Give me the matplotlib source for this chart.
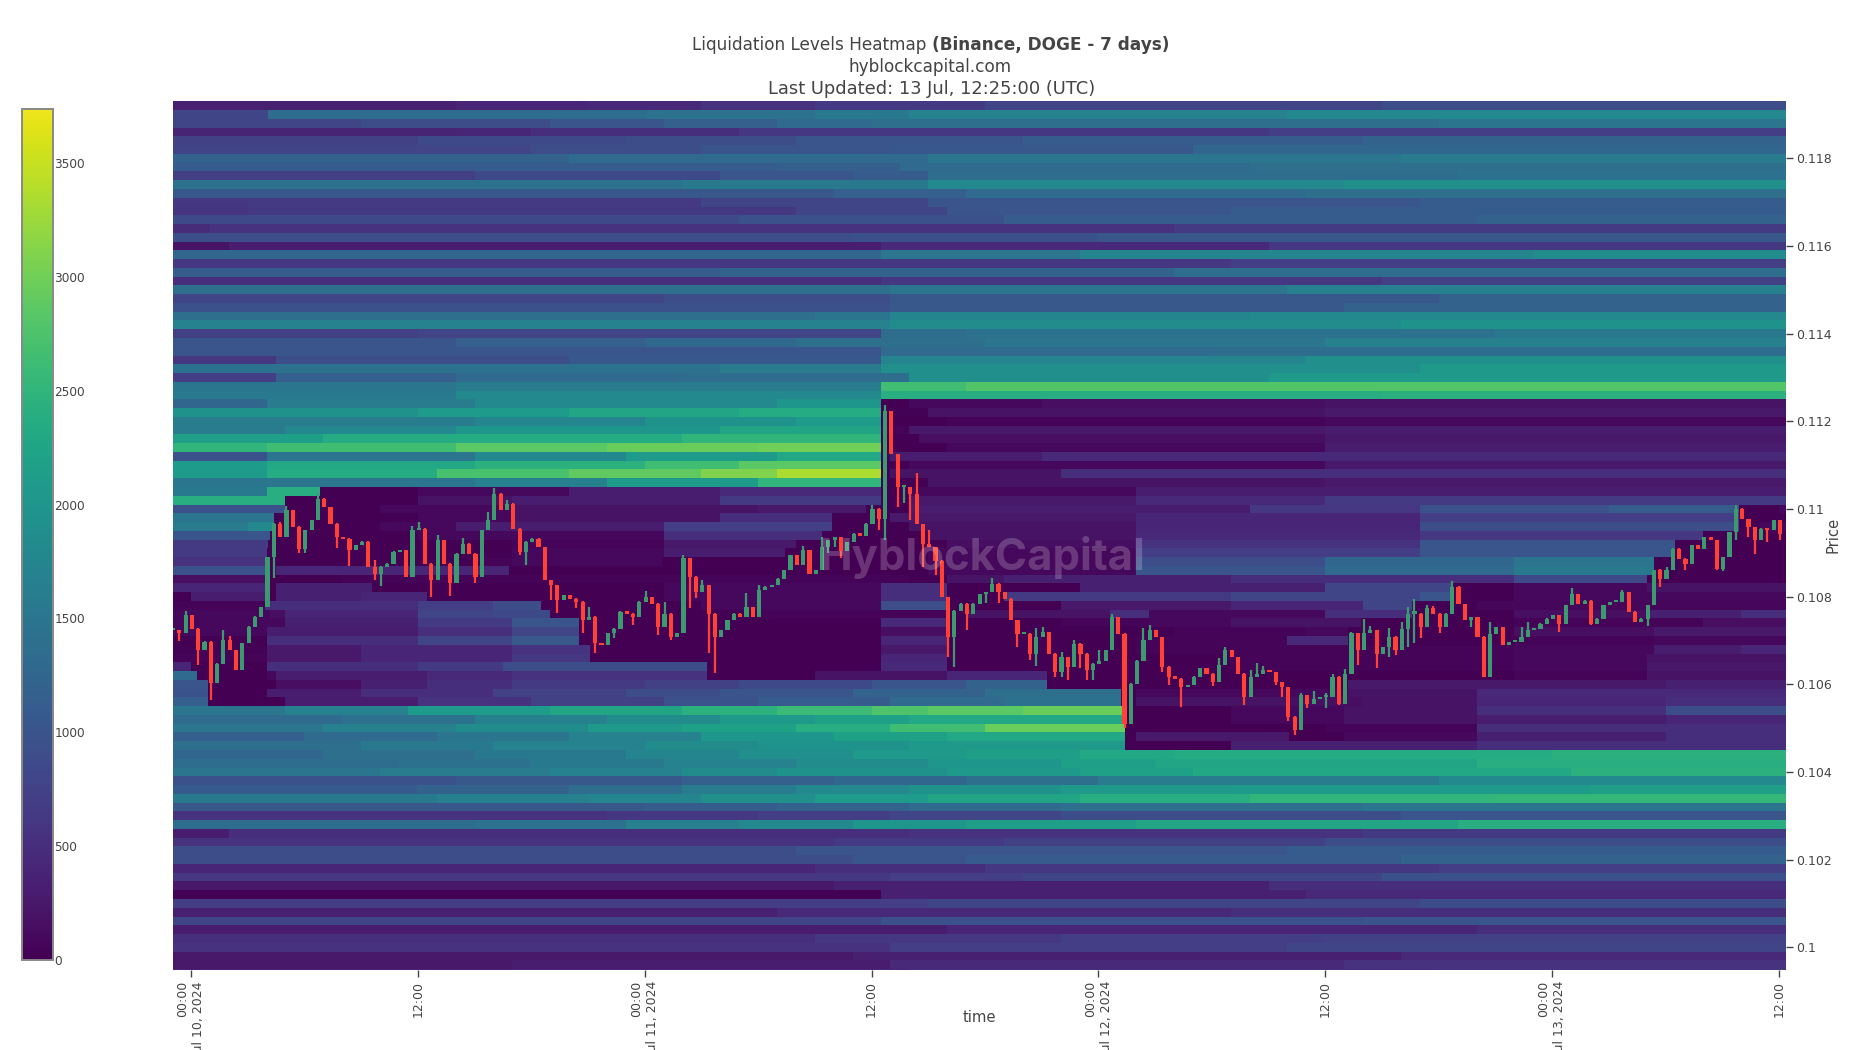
import numpy as np
import matplotlib
matplotlib.use('Agg')
import matplotlib.pyplot as plt
from matplotlib.colors import ListedColormap, Normalize

# price bins, top row first, one bin is 0.0002 wide
price_top = 0.1192
bin_size = 0.0002

# liquidation levels per price bin as (hour since 10 Jul 00:00, level from that hour on)
levels_upper = [
    [(-1,350),(14,400),(21,450),(27,550),(33,650),(42,800),(63,900)],
    [(-1,800),(4.1,1350),(24,1450),(33,1550),(38,1700),(58,1800)],
    [(-1,800),(9,900),(19,1000),(25,1150),(31,1300),(36,1400),(66,1500)],
    [(-1,380),(14,420),(18,500),(29,600),(57,700)],
    [(-1,750),(12,850),(23,900),(32,1000),(44,1100),(62,1200)],
    [(-1,780),(18,900),(27,1000),(37,1050),(53,1250)],
    [(-1,1200),(20,1300),(39,1500),(64,1600)],
    [(-1,1100),(31,1150),(37.5,1300),(56,1400)],
    [(-1,720),(15,850),(28,1000),(35,1100),(39,1350),(67,1450)],
    [(-1,1450),(26,1550),(39,1800),(61,1900)],
    [(-1,1050),(34,1150),(41,1300),(59,1400)],
    [(-1,600),(3,650),(27,800),(39,1000),(65,1100)],
    [(-1,580),(3,620),(32,800),(40,1000),(55,1100)],
    [(-1,850),(29,950),(43,1100),(68,1200)],
    [(-1,480),(1,550),(52,650)],
    [(-1,920),(35,950),(48,1050)],
    [(-1,200),(2,300),(36.5,450),(57,600)],
    [(-1,1250),(36.5,1500),(47,1750),(71,1850)],
    [(-1,600),(55,700)],
    [(-1,1100),(28,1200),(52,1350)],
    [(-1,500),(36.5,600),(63,750)],
    [(-1,1400),(37,1500),(58,1650)],
    [(-1,800),(25,900),(37,1050),(66,1200)],
    [(-1,950),(37,1050),(61,1200)],
    [(-1,1400),(33,1500),(37,1750),(56,1800)],
    [(-1,1700),(37,1850),(64,1950)],
    [(-1,720),(12,780),(36.5,1350),(41,1450),(69,1550)],
    [(-1,1000),(14,1150),(24,1280),(32,1400),(42,1500),(60,1650)],
    [(-1,1000),(36.5,1300),(54,1350)],
    [(-1,600),(4.5,900),(20,1050),(36.5,1750),(59,1900)],
    [(-1,1450),(28,1600),(36.5,1900),(65,2050)],
    [(-1,700),(4.5,1150),(14,1300),(26,1350),(38,1900),(57,2050)],
    [(-1,1500),(14,1600),(36.5,2650),(41,2800)],
    [(-1,1550),(14,1800),(36.5,2400),(63,2450)],
]

levels_middle = [
    [(-1,1250),(4,1600),(15,1800),(31,2000),(36.5,0),(38,100),(45,150),(60,200)],
    [(-1,1950),(12,2100),(20,2250),(29,2350),(36.5,30),(39,200),(60,250)],
    [(-1,1600),(15,1750),(24,1950),(32,2100),(36.5,0),(40,50),(60,100)],
    [(-1,1600),(5,1800),(14,2000),(28,2250),(36.5,50),(38,250),(60,300)],
    [(-1,2150),(7,2350),(26,2500),(36.5,0),(38.5,150),(60,250)],
    [(-1,2500),(4,2650),(14,2850),(22,2950),(30,3000),(36.5,0),(40,100),(60,300)],
    [(-1,950),(4,1500),(15,1800),(23,2100),(31,2300),(36.5,50),(37,300),(45,450)],
    [(-1,2100),(4,2300),(15,2450),(24,2650),(29,2850),(36.5,0),(38,100),(60,250)],
    [(-1,2100),(4,2350),(13,2700),(20,2900),(27,3100),(31,3350),(36.5,0),(37,200),(46,500)],
    [(-1,1500),(15,1650),(22,2100),(30,2500),(36.5,0),(39,200),(60,250)],
    [(-1,1550),(4,2400),(6.8,0),(12,100),(20,300),(28,450),(36.5,0),(38,100),(50,300)],
    [(-1,2400),(5,0),(12,200),(17,300),(28,650),(36.5,0),(38,250),(50,450),(60,650)],
    [(-1,950),(5,0),(10,100),(17,200),(30,250),(35.7,0),(38,300),(56,600),(65,950),(75,1100),(81.9,0),(84,100)],
    [(-1,1500),(4.4,0),(12,100),(17,200),(28,500),(33.9,0),(37,250),(50,400),(65,700),(81.9,0)],
    [(-1,1600),(3,1800),(4.4,0),(10,100),(14,300),(25,700),(33.9,0),(38,200),(50,400),(65,900),(81.9,0),(83,100)],
    [(-1,1000),(4.2,0),(12,100),(25,500),(33.4,0),(39,200),(50,450),(65,600),(80,0)],
    [(-1,650),(4.1,0),(17,50),(25,250),(32,0),(40,150),(50,550),(65,1000),(78.5,0)],
    [(-1,650),(4,0),(17,100),(25,300),(31.4,0),(39,100),(50,700),(65,1000),(78.5,0)],
    [(-1,550),(4,0),(15,50),(17,100),(24.9,0),(39,100),(50,900),(60,1250),(70,1500),(77.4,0)],
    [(-1,950),(4.1,0),(4.5,400),(16.8,0),(39,100),(50,1000),(60,1300),(70,1550),(77.4,0)],
    [(-1,150),(4,0),(8,50),(38,0),(40,200),(43,350),(55,500),(70,850),(77,0)],
    [(-1,400),(4,0),(4.5,350),(9.6,0),(25,100),(36.5,500),(40,0),(47,350),(60,800),(66.7,0),(70,100),(77,200)],
    [(-1,0),(0,300),(4,0),(4.5,350),(9,400),(12.5,0),(25,100),(36.5,500),(40,0),(43,650),(55,800),(65,1000),(66.7,0),(70,100)],
    [(-1,50),(3.9,500),(12,700),(16,900),(18.5,0),(27,100),(36.5,900),(40,0),(46,250),(55,400),(62,800),(64.6,0),(68,80)],
    [(-1,100),(4.2,150),(5,400),(12,800),(16,850),(19,0),(30,50),(40,0),(41,200),(48.6,500),(50.7,100),(60,500),(64.6,0),(70,150),(77,350),(82,500)],
    [(-1,100),(5,350),(12,650),(17,1000),(20.5,0),(36.5,450),(40,0),(46,50),(50.7,100),(55,200),(61.9,0),(70,50),(80,150)],
    [(-1,100),(4,300),(12,500),(17,800),(20.5,0),(36.5,150),(40,0),(52,50),(59,100),(61.2,0),(70,150),(77.4,250)],
    [(-1,0),(4,500),(12,800),(17,1050),(20.5,0),(36.5,400),(40,0),(50,50),(58,450),(61.2,0),(70,50),(77.4,100)],
    [(-1,30),(4,250),(9,400),(17,550),(21.1,0),(36.5,250),(40,0),(50,50),(70,100),(77.4,300),(82,400)],
    [(-1,50),(4,250),(9,400),(17,600),(21.1,0),(36.5,400),(40,0),(55,50),(70,100),(77,200)],
    [(-1,400),(0,0),(4,500),(12,650),(16.5,900),(27.3,0),(36.5,450),(40,0),(55,50),(70,100),(77,250)],
    [(-1,1300),(0.3,0),(4,100),(4.5,300),(12.5,450),(17,550),(27.3,0),(33,200),(40,400),(45.3,0),(70,50),(77,200)],
]

levels_lower = [
    [(-1,1000),(0.9,0),(4.5,150),(9,350),(12.5,500),(17,650),(24,750),(29,850),(36,1000),(41,1200),(45.3,0),(61.2,250),(78,350)],
    [(-1,950),(0.9,0),(4,300),(9,500),(16,750),(23,900),(28,1000),(35,1200),(42,1400),(49.2,0),(50,100),(61.2,200),(68,450)],
    [(-1,1150),(0.9,0),(5,300),(12,550),(18,750),(25,950),(30,1100),(37,1300),(43,1450),(49.2,0),(50,200),(58,150),(62,200),(68,400),(78,500)],
    [(-1,1500),(5,1650),(11.5,2100),(19,2250),(26,2450),(31,2600),(36,2750),(39,2850),(44,2950),(49.4,0),(55,100),(61,200),(68,500),(78,900)],
    [(-1,1300),(8,1450),(15,1650),(22,1850),(28,2050),(33,2200),(38,2300),(49.4,0),(55,100),(61,200),(68,300),(78,400)],
    [(-1,1500),(7,1650),(14,1850),(21,2050),(26,2200),(32,2400),(37,2650),(42,2950),(49.4,0),(60,50),(68,500)],
    [(-1,1150),(6,1300),(13,1500),(20,1700),(27,2000),(34,2200),(40,2300),(49.4,0),(50,250),(58.1,0),(61,100),(68,350),(78,500)],
    [(-1,1400),(9,1550),(16,1700),(24,1850),(30,1950),(38,2050),(49.4,0),(55,350),(68,500)],
    [(-1,1250),(7,1400),(15,1550),(23,1750),(29,1900),(35,2050),(41,2150),(47,2300),(52,2350),(72,2450)],
    [(-1,1350),(11,1450),(18,1550),(25,1700),(32,1850),(39,2000),(46,2150),(51,2250),(68,2400)],
    [(-1,1500),(10,1600),(19,1700),(26,1850),(31,1950),(40,2050),(47,2200),(53,2300),(73,2450)],
    [(-1,950),(14,1050),(26,1150),(34,1250),(41,1400),(48,1600),(66,1800)],
    [(-1,1100),(12,1200),(20,1350),(26,1600),(32,1800),(38,1950),(46,2050),(55,2100),(74,2150)],
    [(-1,1550),(13,1650),(21,1750),(27,1900),(33,2100),(39,2250),(47,2400),(56,2500),(69,2550)],
    [(-1,1050),(24,1100),(31,1200),(38,1300),(46,1400),(62,1500)],
    [(-1,550),(22,600),(30,700),(37,800),(46,900),(64,1000)],
    [(-1,1350),(15,1450),(23,1650),(29,1800),(35,2000),(41,2150),(50,2250),(67,2400)],
    [(-1,300),(2,500),(38,550),(62,650)],
    [(-1,550),(34,650),(43,750),(60,900)],
    [(-1,900),(32,1000),(58,1100)],
    [(-1,900),(35,1000),(41,1080),(64,1200)],
    [(-1,400),(33,500),(42,600),(66,700)],
    [(-1,600),(37,700),(44,800),(63,950)],
    [(-1,250),(34,350),(57,500)],
    [(-1,30),(36.5,350),(59,450)],
    [(-1,700),(39,800),(65,900)],
    [(-1,350),(31,450),(55,500)],
    [(-1,800),(36.5,950),(62,1000)],
    [(-1,300),(40,400),(68,500)],
    [(-1,500),(33,600),(46,700),(60,750)],
    [(-1,550),(37,700),(58,800)],
    [(-1,250),(35,350),(64,450)],
    [(-1,250),(17,300),(37,450),(61,550)],
    [(-1,380),(17,400),(38,500),(66,600)],
]

# 20 min candles in 1e-5 units
candle_start = -0.95
close_10jul = [10724,10717,10758,10728,10679,10698,10603,10648,10701,10679,10633,10694,10732,10755,10777,10891,
    10967,10937,10998,10960,10910,10952,10975,11024,11005,10967,10937,10933,10907,10918,10926,10869,10853,10869,
    10876,10903,10907,10846,10952,10956,10876,10838,10929,10876,10831,10899,10922,10899,10846,10952,10975,11036,10998]
close_11jul = [11013,10956,10903,10926,10933,10914,10838,10827,10793,10804,10796,10789,10747,10755,10694,10690,
    10717,10728,10766,10762,10755,10789,10800,10785,10732,10762,10709,10717,10888,10846,10812,10827,10762,10709,
    10724,10747,10762,10755,10777,10755,10815,10823,10827,10842,10861,10895,10872,10907,10853,10861,10914,10929]
close_12jul_am = [10937,10906,10925,10944,10940,10967,11001,10978,11225,11127,11051,11051,11035,10967,10921,10914,
    10883,10800,10709,10769,10785,10762,10785,10807,10811,10830,10811,10796,10747,10716,10716,10671,10709,10720,
    10671,10629,10663,10640,10693,10671,10633,10648,10655,10678,10754,10716,10511,10602,10655,10701,10724,10709]
close_12jul_pm = [10641,10618,10614,10595,10599,10618,10637,10625,10606,10644,10679,10663,10625,10572,10618,10625,
    10633,10629,10606,10595,10527,10496,10576,10557,10568,10572,10572,10618,10557,10625,10717,10679,10717,10724,
    10671,10686,10709,10679,10728,10762,10762,10732,10774,10762,10732,10762,10823,10785]
close_13jul = [10747,10754,10709,10617,10716,10731,10690,10697,10697,10709,10724,10728,10739,10750,10758,10739,
    10781,10807,10785,10792,10739,10750,10781,10788,10788,10811,10766,10743,10750,10781,10861,10842,10861,10910,
    10887,10876,10918,10910,10937,10929,10864,10891,10948,11001,10978,10959,10929,10956,10952,10975,10944]

# candle index -> wick end, only where the wick sticks out of the body
wick_high = {2:10766,8:10724,9:10709,17:10971,18:11007,23:11036,32:10884,38:10960,39:10971,42:10941,46:10933,50:10994,51:11047,
    53:11021,66:10777,75:10812,78:10787,81:10895,84:10838,91:10809,93:10827,100:10916,103:10937,
    111:11009,113:11237,114:11216,115:11108,118:11081,119:10952,120:10952,130:10842,134:10730,137:10728,138:10730,
    141:10674,143:10701,147:10678,149:10760,154:10728,155:10735,
    157:10679,166:10660,167:10685,171:10633,172:10648,173:10641,177:10572,179:10581,181:10584,183:10580,184:10624,
    186:10634,187:10720,189:10749,190:10732,193:10728,195:10743,196:10777,197:10794,199:10781,200:10779,203:10836,
    205:10769,209:10743,214:10731,215:10743,222:10819,230:10815,236:10864,237:10868,248:11009}
wick_low = {1:10698,4:10644,6:10565,16:10842,20:10899,21:10899,26:10910,28:10869,32:10838,33:10823,38:10860,41:10800,44:10802,48:10831,
    55:10895,56:10872,60:10793,61:10762,64:10774,65:10717,67:10671,70:10705,73:10736,77:10713,79:10701,82:10774,83:10796,85:10671,86:10625,
    104:10899,105:10914,106:10887,112:10952,113:10929,115:11005,116:11013,117:10975,119:10868,121:10849,123:10663,124:10640,126:10724,129:10785,
    131:10785,134:10686,136:10655,137:10642,140:10617,141:10617,142:10610,144:10636,145:10610,146:10610,151:10500,
    157:10629,158:10599,160:10549,165:10597,170:10553,175:10599,176:10572,177:10515,178:10485,180:10546,183:10546,185:10553,
    188:10644,189:10686,191:10637,193:10663,194:10667,196:10686,197:10694,198:10705,201:10718,
    206:10731,208:10616,220:10720,225:10735,234:10733,236:10821,240:10861,245:10861,246:10859,248:10929,250:10937,251:10897,253:10925,255:10929}

# colorbar and axis labels
cbar_ticks = [0, 500, 1000, 1500, 2000, 2500, 3000, 3500]
price_ticks = [0.1, 0.102, 0.104, 0.106, 0.108, 0.11, 0.112, 0.114, 0.116, 0.118]
price_labels = ['0.1', '0.102', '0.104', '0.106', '0.108', '0.11', '0.112', '0.114', '0.116', '0.118']
time_ticks = [0, 12, 24, 36, 48, 60, 72, 84]
time_labels = ['00:00\nJul 10, 2024', '12:00', '00:00\nJul 11, 2024', '12:00',
               '00:00\nJul 12, 2024', '12:00', '00:00\nJul 13, 2024', '12:00']

W, H = 1866, 1050
txt = '#444444'

levels = levels_upper + levels_middle + levels_lower
closes = np.array(close_10jul + close_11jul + close_12jul_am + close_12jul_pm + close_13jul) / 1e5

# step levels out onto one shared set of time edges
t_edges = sorted({t for row in levels for t, _ in row} | {85.0})
t_edges = np.array(t_edges)
z = np.zeros((len(levels), len(t_edges) - 1))
for i, row in enumerate(levels):
    starts = np.array([s[0] for s in row])
    vals = np.array([s[1] for s in row])
    idx = np.searchsorted(starts, t_edges[:-1], side='right') - 1
    z[i] = vals[idx]

p_edges = price_top + bin_size / 2 - bin_size * np.arange(len(levels) + 1)

cmap = ListedColormap(plt.cm.viridis(np.linspace(0, 0.975, 256)))
norm = Normalize(0, 3735)

fig = plt.figure(figsize=(W / 100, H / 100), dpi=100)
ax = fig.add_axes([173 / W, 1 - 970 / H, (1786 - 173) / W, 870 / H])
mesh = ax.pcolormesh(t_edges, p_edges, z, cmap=cmap, norm=norm, shading='flat', edgecolors='none', antialiased=False)

# candles
t = candle_start + np.arange(len(closes)) / 3
opens = np.r_[closes[0], closes[:-1]]
colors = np.where(closes >= opens, '#3D9970', '#FF4136')
highs = np.maximum(opens, closes)
lows = np.minimum(opens, closes)
for i, v in wick_high.items():
    highs[i] = v / 1e5
for i, v in wick_low.items():
    lows[i] = v / 1e5
ax.vlines(t, lows, highs, colors=colors, linewidth=1.6, zorder=3)
ax.bar(t, np.maximum(np.abs(closes - opens), 0.00005), bottom=np.minimum(opens, closes) - 0.00001, width=0.22, color=colors, linewidth=0, zorder=4)

ax.text(0.5014, 0.4745, 'HyblockCapital', transform=ax.transAxes, ha='center', va='center', fontsize=31.4,
        family='Inter', fontweight='bold', color='white', alpha=0.2, zorder=5)

ax.set_xlim(-0.95, 84.37)
ax.set_ylim(0.09948, 0.11933)
for s in ax.spines.values():
    s.set_visible(False)
ax.yaxis.tick_right()
ax.set_yticks(price_ticks)
ax.set_yticklabels(price_labels)
ax.set_xticks(time_ticks)
ax.set_xticklabels(time_labels, rotation=90, ha='center', va='top', multialignment='right', linespacing=1.35)
ax.tick_params(axis='both', labelsize=9, colors=txt, length=5, width=1, pad=2)
ax.tick_params(axis='x', pad=3)

fig.text(979 / W, 1 - 1018 / H, 'time', ha='center', va='center', fontsize=10.6, color=txt)
fig.text(1833 / W, 1 - 535 / H, 'Price', ha='center', va='center', rotation=90, fontsize=10.6, color=txt)

# colorbar
cax = fig.add_axes([21.5 / W, 1 - 960 / H, 31.5 / W, 850.5 / H])
cb = fig.colorbar(mesh, cax=cax, ticks=cbar_ticks)
cb.ax.tick_params(labelsize=8.7, colors=txt, length=0, pad=1)
cb.outline.set_edgecolor('#888888')
cb.outline.set_linewidth(1.4)

# title, second half of line one is bold
t1 = fig.text(0, 1 - 45 / H, 'Liquidation Levels Heatmap', fontsize=12.2, color=txt, va='center')
t2 = fig.text(0, 1 - 45 / H, '(Binance, DOGE - 7 days)', fontsize=12.2, color=txt, va='center', fontweight='bold')
r = fig.canvas.get_renderer()
w1 = t1.get_window_extent(r).width + 6
w2 = t2.get_window_extent(r).width
x0 = 931 - (w1 + w2) / 2
t1.set_x(x0 / W)
t2.set_x((x0 + w1) / W)
fig.text(930 / W, 1 - 67 / H, 'hyblockcapital.com', ha='center', va='center', fontsize=12.2, color=txt)
fig.text(932 / W, 1 - 88.5 / H, 'Last Updated: 13 Jul, 12:25:00 (UTC)', ha='center', va='center', fontsize=12.85, color=txt)

fig.savefig('out.png', dpi=100)
